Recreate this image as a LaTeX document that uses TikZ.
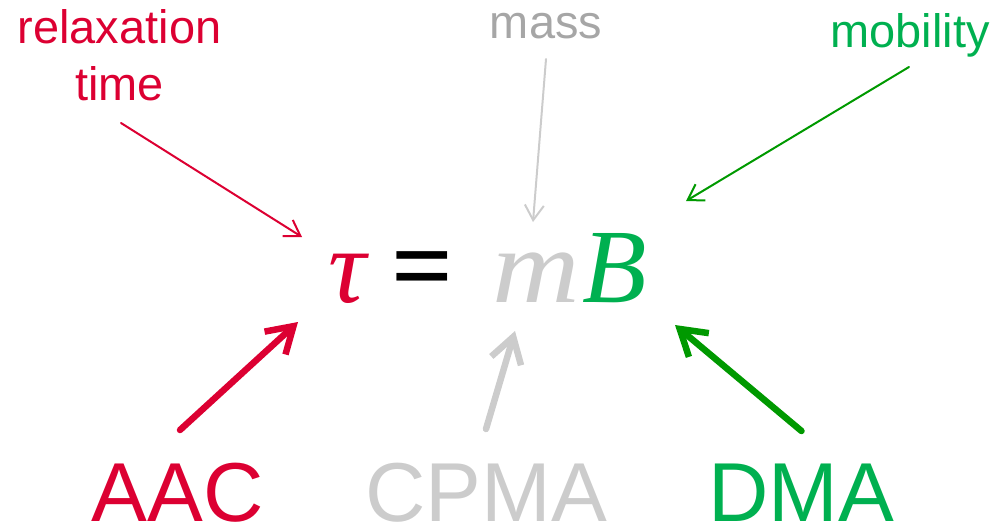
\documentclass[tikz,border=0pt]{standalone}
\usepackage{fontspec}
\setmainfont{Liberation Sans}
\newfontfamily\eqfont{Liberation Serif}
\usetikzlibrary{arrows.meta}
\definecolor{aacred}{RGB}{220,0,50}
\definecolor{cpmagrey}{RGB}{204,204,204}
\definecolor{massgrey}{RGB}{166,166,166}
\definecolor{dmagreen}{RGB}{0,176,80}
\definecolor{arrowgreen}{RGB}{0,153,0}

\begin{document}
\begin{tikzpicture}[
    quantity/.style={
        inner sep=0pt,
        anchor=base,
        align=center,
        font=\fontsize{26.7}{32.4}\selectfont
    },
    instrument/.style={
        inner sep=0pt,
        anchor=base,
        font=\fontsize{47.6}{57}\selectfont
    },
    symbol/.style={
        inner sep=0pt,
        anchor=base,
        font=\eqfont\itshape\fontsize{60}{72}\selectfont
    },
    namearrow/.style={
        -{Straight Barb[length=0.3cm,width=0.38cm]},
        line width=0.04cm,
        line cap=round,
        line join=round
    },
    measarrow/.style={
        -{Straight Barb[length=0.5cm,width=0.62cm]},
        line width=0.13cm,
        line cap=round,
        line join=round
    }
]

\useasboundingbox (0,0) rectangle (19.92,-10.56);

% ============================================================
% EQUATION
% ============================================================

\node[symbol, text=aacred] (tau) at (6.94,-6.04) {τ};
\node[symbol, font=\eqfont\bfseries\fontsize{62}{72}\selectfont] (eq) at (8.45,-6.04) {=};
\node[symbol, text=cpmagrey, xscale=1.15, transform shape] (m) at (10.72,-6.04) {m};
\node[symbol, text=dmagreen] (B) at (12.30,-6.04) {B};

% ============================================================
% QUANTITIES
% ============================================================

\node[quantity, text=aacred] (relax) at (2.39,-2.00)
{relaxation\\time};

\node[quantity, text=massgrey] (mass) at (10.92,-0.76)
{mass};

\node[quantity, text=dmagreen] (mobility) at (18.20,-0.94)
{mobility};

\draw[namearrow, aacred]
([xshift=0.03cm,yshift=-0.46cm]relax.base) -- ([xshift=-0.90cm,yshift=1.30cm]tau.base);
\draw[namearrow, cpmagrey]
([yshift=-0.42cm]mass.base) -- ([xshift=-0.06cm,yshift=1.60cm]m.base);
\draw[namearrow, arrowgreen]
([xshift=-0.02cm,yshift=-0.40cm]mobility.base) -- ([xshift=1.42cm,yshift=2.02cm]B.base);

% ============================================================
% INSTRUMENTS
% ============================================================

\node[instrument, text=aacred] (aac) at (3.55,-10.42) {AAC};
\node[instrument, text=cpmagrey] (cpma) at (9.72,-10.42) {CPMA};
\node[instrument, text=dmagreen] (dma) at (16.03,-10.42) {DMA};

\draw[measarrow, aacred]
([xshift=0.05cm,yshift=1.82cm]aac.base) -- ([xshift=-0.98cm,yshift=-0.40cm]tau.base);
\draw[measarrow, cpmagrey]
([yshift=1.84cm]cpma.base) -- ([xshift=-0.42cm,yshift=-0.58cm]m.base);
\draw[measarrow, arrowgreen]
([yshift=1.80cm]dma.base) -- ([xshift=1.20cm,yshift=-0.46cm]B.base);

\end{tikzpicture}
\end{document}
